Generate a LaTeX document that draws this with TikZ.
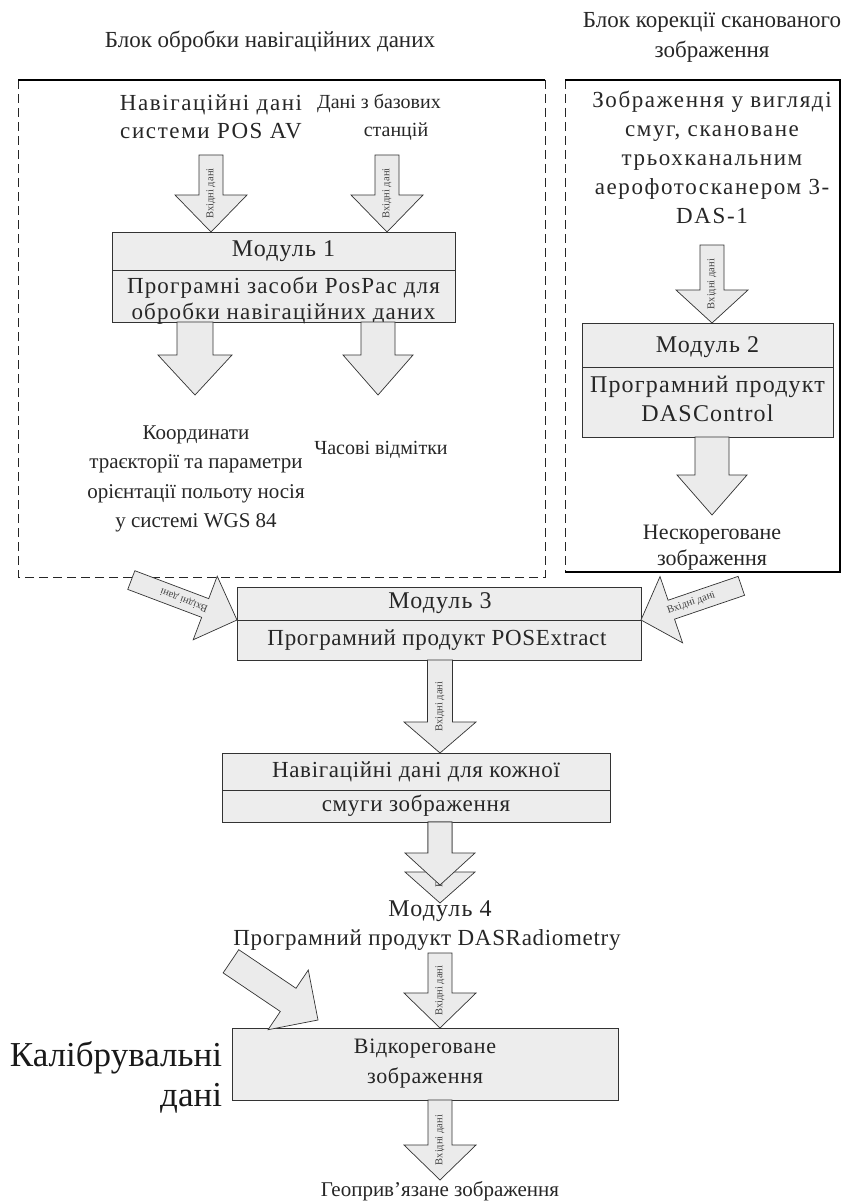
\documentclass[tikz,border=0pt]{standalone}
\usepackage{fontspec}
\setmainfont{Liberation Serif}
\newfontfamily\spfont[LetterSpace=7]{Liberation Serif}
\newfontfamily\smfont[LetterSpace=3]{Liberation Serif}
\newfontfamily\mdfont[LetterSpace=5]{Liberation Serif}
\usetikzlibrary{calc}
\begin{document}
\begin{tikzpicture}[x=1pt,y=-1pt,
  every node/.style={inner sep=0pt, outer sep=0pt},
  ttl/.style={align=center, font=\fontsize{23}{30}\selectfont, text=black!85},
  txt/.style={align=center, font=\spfont\fontsize{23}{28}\selectfont, text=black!85},
  mtxt/.style={align=center, font=\smfont\fontsize{23}{26}\selectfont, text=black!85},
  mhead/.style={align=center, font=\mdfont\fontsize{24}{26}\selectfont, text=black!85},
  otxt/.style={align=center, font=\fontsize{21}{29.3}\selectfont, text=black!85},
  bigtxt/.style={align=right, font=\fontsize{35}{40}\selectfont, text=black!90},
  modbox/.style={draw=black!80, fill=black!7, line width=0.8pt, rectangle},
  arr/.style={draw=black!80, fill=black!8, line width=0.7pt, line join=miter},
  lbl/.style={font=\fontsize{10.5}{11}\selectfont, text=black!75},
  solidframe/.style={draw=black, line width=1.6pt},
  dashframe/.style={draw=black!85, line width=0.8pt, dash pattern=on 9pt off 5pt},
  pics/barrow/.style args={#1/#2/#3/#4/#5}{code={
    \draw[arr] (0,0) -- (-#4,#3) -- (-#4,#2) -- (-#1,#2) -- (-#1,-#2) -- (-#4,-#2) -- (-#4,-#3) -- cycle;
    \node[lbl, transform shape, rotate=180] at ({-#1/2},0) {#5};
  }},
]
\useasboundingbox (0,0) rectangle (861,1201);

% ---- titles
\node[ttl] (t1) at (270,42) {Блок обробки навігаційних даних};
\node[ttl] (t2) at (712,37) {Блок корекції сканованого\\зображення};

% ---- frames
\coordinate (lf1) at (18,80);  \coordinate (lf2) at (545,80);
\coordinate (lf3) at (545,577); \coordinate (lf4) at (18,577);
\draw[dashframe] (lf2) -- (lf3) -- (lf4) -- (lf1);
\draw[solidframe] (lf1) -- (lf2);
\coordinate (rf1) at (565,80);  \coordinate (rf2) at (840,80);
\coordinate (rf3) at (840,572); \coordinate (rf4) at (565,572);
\draw[dashframe] (rf1) -- (rf4);
\draw[solidframe] (rf4) -- (rf3) -- (rf2) -- (rf1);

% ---- left block texts
\node[txt] (in1) at (211,117) {Навігаційні дані\\системи POS AV};
\node[otxt, font=\fontsize{20}{29}\selectfont] (in2a) at (379,103) {Дані з базових};
\node[otxt, font=\fontsize{20}{29}\selectfont] (in2b) at (396,132) {станцій};

% ---- Module 1
\node[modbox, minimum width=343pt, minimum height=90pt] (m1) at (283.5,277) {};
\draw[modbox] ($(m1.north west)+(0,38)$) coordinate (m1d) -- (m1d -| m1.east);
\node[mhead] (m1a) at (283.5,251) {Модуль 1};
\node[mtxt, font=\mdfont\fontsize{23}{26}\selectfont] (m1b) at (283.5,300.5) {Програмні засоби PosPac для\\обробки навігаційних даних};

\pic[rotate=-90] at (m1.north -| in1) {barrow=77/12/36/37/Вхідні дані};
\pic[rotate=-90] at (m1.north -| 387,0) {barrow=77/12/36/37/Вхідні дані};

\node[otxt] (o1) at (196,479) {Координати\\траєкторії та параметри\\орієнтації польоту носія\\у системі WGS 84};
\node[otxt, font=\fontsize{20}{29}\selectfont] (o2) at (381,450) {Часові відмітки};
\coordinate (o1t) at (195,395);
\coordinate (o2t) at (378,395);
\pic[rotate=-90] at (o1t) {barrow=73/18/37/40/};
\pic[rotate=-90] at (o2t) {barrow=73/17/35/40/};

% ---- right block
\node[txt, font=\spfont\fontsize{23}{29}\selectfont] (in3) at (712,157) {Зображення у вигляді\\смуг, скановане\\трьохканальним\\аерофотосканером 3-\\DAS-1};
\node[modbox, minimum width=251pt, minimum height=114pt] (m2) at (707.5,380) {};
\draw[modbox] ($(m2.north west)+(0,44)$) coordinate (m2d) -- (m2d -| m2.east);
\node[mhead] (m2a) at (707.5,347) {Модуль 2};
\node[mtxt, font=\mdfont\fontsize{24}{29}\selectfont] (m2b) at (707.5,398.5) {Програмний продукт\\DASControl};
\pic[rotate=-90] at (m2.north -| in3) {barrow=78/12/36/33/Вхідні дані};
\node[otxt, font=\fontsize{22}{26}\selectfont] (o3) at (712,547.5) {Нескореговане\\зображення};
\coordinate (o3t) at (712,515);
\pic[rotate=-90] at (o3t) {barrow=78/17/35/40/};

% ---- Module 3
\node[modbox, minimum width=404pt, minimum height=73pt] (m3) at (439,623.5) {};
\draw[modbox] ($(m3.north west)+(0,33)$) coordinate (m3d) -- (m3d -| m3.east);
\node[mhead] (m3a) at (440,603) {Модуль 3};
\node[mtxt] (m3b) at (437,640) {Програмний продукт POSExtract};
\pic[rotate=-20.7] at (m3d) {barrow=113/10/34/34/Вхідні дані};
\pic[rotate=-161.2] at (m3d -| m3.east) {barrow=106/10/35/32/Вхідні дані};

% ---- navigation data per strip
\node[modbox, minimum width=388pt, minimum height=69pt] (nv) at (416,787.5) {};
\draw[modbox] ($(nv.north west)+(0,37)$) coordinate (nvd) -- (nvd -| nv.east);
\node[mtxt] (nva) at (416,772) {Навігаційні дані для кожної};
\node[mtxt] (nvb) at (416,806) {смуги зображення};
\pic[rotate=-90] at (nv.north -| 440,0) {barrow=93/12.5/36/31/Вхідні дані};

% ---- Module 4
\coordinate (m4t1) at (440,903);
\coordinate (m4t2) at (440,885);
\pic[rotate=-90] at (m4t1) {barrow=81/12/35/31/Вхідні дані};
\pic[rotate=-90] at (m4t2) {barrow=63/12/35/32/};
\node[mhead] (m4a) at (440,911) {Модуль 4};
\node[mtxt] (m4b) at (427,940) {Програмний продукт DASRadiometry};

% ---- corrected image
\node[modbox, minimum width=386pt, minimum height=72pt] (fb) at (425,1064) {};
\node[mtxt, font=\smfont\fontsize{22}{30}\selectfont] (fba) at (425,1064) {Відкореговане\\зображення};
\pic[rotate=-90] at (fb.north -| 440,0) {barrow=75/12/36/35/Вхідні дані};
\node[bigtxt] (cal) at (116,1077) {Калібрувальні\\дані};
\coordinate (calt) at (318,1020);
\pic[rotate=-34] at (calt) {barrow=105/14/36/36/};

% ---- geo-referenced
\coordinate (geot) at (440,1180);
\pic[rotate=-90] at (geot) {barrow=80/12/36/35/Вхідні дані};
\node[otxt] (geo) at (440,1191) {Геоприв'язане зображення};
\end{tikzpicture}
\end{document}
